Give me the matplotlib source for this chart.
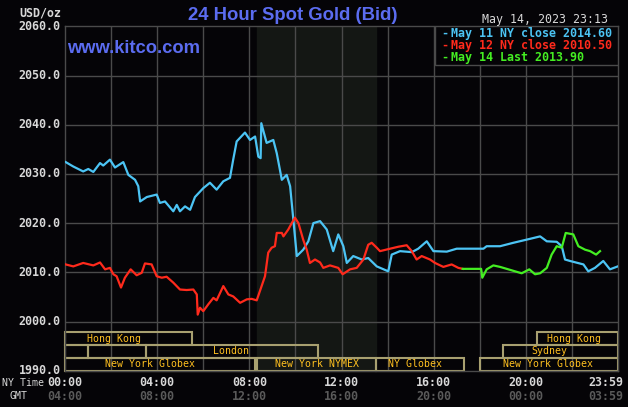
import matplotlib
matplotlib.use("Agg")
import matplotlib.pyplot as plt
from matplotlib.patches import Rectangle
import matplotlib.transforms as mtransforms

# ---------------- data ----------------
blue_h = [0.03, 0.36, 0.79, 1.01, 1.23, 1.52, 1.66, 1.95, 2.17, 2.53, 2.75, 3.04, 3.18, 3.26,
          3.55, 3.98, 4.12, 4.34, 4.70, 4.85, 4.99, 5.21, 5.43, 5.64, 6.00, 6.29, 6.58, 6.87,
          7.16, 7.30, 7.45, 7.81, 8.03, 8.25, 8.39, 8.49, 8.52, 8.75, 9.04, 9.19, 9.41, 9.62,
          9.77, 9.91, 10.06, 10.34, 10.56, 10.78, 11.07, 11.36, 11.64, 11.86, 12.08, 12.23,
          12.51, 12.88, 13.16, 13.53, 14.03, 14.18, 14.54, 15.05, 15.33, 15.70, 15.99, 16.57,
          17.00, 18.16, 18.30, 18.88, 19.46, 20.18, 20.62, 20.91, 21.34, 21.56, 21.70, 21.92,
          22.50, 22.71, 23.00, 23.36, 23.65, 23.99]
blue_p = [2032.4, 2031.5, 2030.5, 2031.0, 2030.4, 2032.2, 2031.7, 2032.9, 2031.3, 2032.4, 2029.8,
          2028.8, 2027.5, 2024.4, 2025.3, 2025.8, 2024.1, 2024.4, 2022.4, 2023.7, 2022.4, 2023.4,
          2022.7, 2025.3, 2027.1, 2028.2, 2026.8, 2028.5, 2029.2, 2032.9, 2036.6, 2038.4, 2036.9,
          2037.6, 2033.5, 2033.2, 2040.3, 2036.3, 2036.9, 2034.2, 2028.8, 2029.8, 2027.5, 2020.7,
          2013.3, 2014.6, 2016.3, 2020.0, 2020.4, 2018.7, 2014.3, 2017.7, 2015.3, 2011.9, 2013.3,
          2012.6, 2012.9, 2011.2, 2010.2, 2013.6, 2014.3, 2014.1, 2014.8, 2016.3, 2014.3, 2014.2,
          2014.8, 2014.8, 2015.3, 2015.3, 2016.0, 2016.8, 2017.3, 2016.3, 2016.2, 2015.3, 2012.6,
          2012.3, 2011.6, 2010.2, 2010.9, 2012.3, 2010.6, 2011.2]

red_h = [0.03, 0.36, 0.79, 1.23, 1.52, 1.74, 1.95, 2.10, 2.24, 2.43, 2.60, 2.85, 3.11, 3.33,
         3.47, 3.76, 3.98, 4.20, 4.41, 4.70, 4.99, 5.28, 5.57, 5.72, 5.76, 5.86, 6.00, 6.22,
         6.44, 6.58, 6.87, 7.09, 7.30, 7.60, 7.89, 8.10, 8.32, 8.46, 8.68, 8.82, 8.97, 9.11,
         9.19, 9.41, 9.48, 9.69, 9.84, 9.98, 10.13, 10.34, 10.49, 10.63, 10.85, 11.07, 11.21,
         11.50, 11.86, 12.05, 12.37, 12.66, 12.95, 13.16, 13.31, 13.53, 13.67, 14.11, 14.47,
         14.83, 15.05, 15.26, 15.48, 15.84, 16.06, 16.42, 16.78, 17.07, 17.26]
red_p = [2011.6, 2011.2, 2011.9, 2011.4, 2012.0, 2010.6, 2010.9, 2009.6, 2009.2, 2006.9, 2008.9,
         2010.6, 2009.4, 2009.9, 2011.8, 2011.6, 2009.2, 2008.9, 2009.1, 2007.9, 2006.5, 2006.4,
         2006.5, 2005.5, 2001.4, 2002.8, 2002.1, 2003.5, 2004.8, 2004.3, 2007.2, 2005.5, 2005.1,
         2003.8, 2004.5, 2004.6, 2004.3, 2006.2, 2009.2, 2014.0, 2015.0, 2015.3, 2018.0, 2018.0,
         2017.3, 2018.7, 2020.0, 2021.1, 2020.0, 2016.6, 2014.6, 2011.9, 2012.6, 2012.0, 2010.9,
         2011.4, 2010.9, 2009.6, 2010.6, 2010.9, 2012.6, 2015.6, 2016.0, 2015.0, 2014.3, 2014.8,
         2015.2, 2015.5, 2014.3, 2012.6, 2013.3, 2012.6, 2011.9, 2011.1, 2011.6, 2010.9, 2010.7]

green_h = [17.26, 18.06, 18.11, 18.30, 18.59, 18.88, 19.17, 19.53, 19.82, 20.15, 20.40, 20.62,
           20.91, 21.12, 21.34, 21.56, 21.73, 22.06, 22.28, 22.57, 22.79, 23.05, 23.22]
green_p = [2010.7, 2010.7, 2008.9, 2010.6, 2011.4, 2011.1, 2010.7, 2010.2, 2009.8, 2010.6, 2009.6,
           2009.8, 2010.9, 2013.6, 2015.3, 2015.0, 2018.0, 2017.7, 2015.3, 2014.6, 2014.3, 2013.6,
           2014.3]

legend_labels = ["May 11 NY close 2014.60", "May 12 NY close 2010.50", "May 14 Last 2013.90"]
ny_ticks = [0, 4, 8, 12, 16, 20]
ny_labels = ["00:00", "04:00", "08:00", "12:00", "16:00", "20:00"]
gmt_labels = ["04:00", "08:00", "12:00", "16:00", "20:00", "00:00"]
last_ny, last_gmt = "23:59", "03:59"
y_ticks = [1990, 2000, 2010, 2020, 2030, 2040, 2050, 2060]

# sessions: (row, start hour, end hour, label)
sessions = [
    (2, 0.0, 5.5, "Hong Kong"), (2, 20.5, 24.0, "Hong Kong"),
    (1, 0.0, 1.0, ""), (1, 1.0, 3.5, ""), (1, 3.5, 11.0, "London"), (1, 19.0, 24.0, "Sydney"),
    (0, 0.0, 8.25, "New York Globex"), (0, 8.33, 13.5, "New York NYMEX"),
    (0, 13.5, 17.33, "NY Globex"), (0, 18.0, 24.0, "New York Globex"),
]
label_centers = [2.13, 22.07, None, None, 7.2, 21.0, 3.67, 10.92, 15.2, 20.96]
nymex_shade = (8.33, 13.5)

# ---------------- style ----------------
BG = "#050407"
GRID = "#4a4a4a"
TXT = "#d8d8d8"
BLUE = "#4cc4f4"
RED = "#ff2a1c"
GREEN = "#44ee22"
TITLE = "#5b6cf0"
BOX = "#a8a070"
SESS = "#ffc020"
MONO = "DejaVu Sans Mono"

W, H = 628, 407
fig = plt.figure(figsize=(W / 100, H / 100), dpi=100, facecolor=BG)
L, R, T, B = 65, 618, 26.3, 370.7
ax = fig.add_axes([L / W, 1 - B / H, (R - L) / W, (B - T) / H], facecolor=BG)
ax.set_xlim(0, 24)
ax.set_ylim(1990, 2060)
for s in ax.spines.values():
    s.set_color(GRID)
    s.set_linewidth(1)
ax.set_xticks([])
ax.set_yticks([])

# shaded NYMEX region
ax.axvspan(nymex_shade[0], nymex_shade[1], color="#141714", zorder=0)

# grid
for yv in y_ticks[1:-1]:
    ax.axhline(yv, color=GRID, lw=1, zorder=1)
for xv in range(2, 24, 2):
    ax.axvline(xv, color=GRID, lw=1, zorder=1)

# sessions
row_h = 70 * (B - T) ** -1 * 12.8  # about 2.6 price units per row
for (row, s0, s1, lab), cx in zip(sessions, label_centers):
    y0 = 1990 + row * row_h
    ax.add_patch(Rectangle((s0, y0), s1 - s0, row_h, fill=False, edgecolor=BOX,
                           lw=1.5, zorder=2, clip_on=False))
    if lab:
        ax.text(cx, y0 + row_h / 2, lab, color=SESS, fontsize=7.1, family=MONO,
                ha="center", va="center", zorder=3)

# lines
ax.plot(blue_h, blue_p, color=BLUE, lw=1.6, zorder=4)
ax.plot(red_h, red_p, color=RED, lw=1.6, zorder=4)
ax.plot(green_h, green_p, color=GREEN, lw=1.6, zorder=5)

# legend box
lx0 = (434.7 - L) / (R - L)
ly0 = 1 - (65.3 - T) / (B - T)
ax.add_patch(Rectangle((lx0, ly0), 1 - lx0, 1 - ly0, transform=ax.transAxes,
                       facecolor=BG, edgecolor=GRID, lw=1, zorder=6))
for i, (lab, col) in enumerate(zip(legend_labels, [BLUE, RED, GREEN])):
    yy = 1 - (33 + 12.3 * i) / H
    fig.text(441 / W, yy, "-", color=col, fontsize=8.4, family=MONO,
             fontweight="bold", va="center", ha="left", zorder=7)
    fig.text(450.7 / W, yy, lab, color=col, fontsize=8.4, family=MONO,
             fontweight="bold", va="center", ha="left", zorder=7)

# y tick labels
ytr = mtransforms.blended_transform_factory(fig.transFigure, ax.transData)
for yv in y_ticks:
    ax.text(60.5 / W, yv, f"{yv:.1f}", transform=ytr,
            color=TXT, fontsize=8.4, family=MONO, fontweight="bold", ha="right", va="center")

# time labels
ty1 = 1 - 382.5 / H
ty2 = 1 - 396 / H
btr = mtransforms.blended_transform_factory(ax.transData, fig.transFigure)
for xv, a, b in zip(ny_ticks, ny_labels, gmt_labels):
    ax.text(xv, ty1, a, transform=btr, color=TXT, fontsize=8.4, family=MONO,
            fontweight="bold", ha="center", va="center")
    ax.text(xv, ty2, b, transform=btr, color="#5a5a5a", fontsize=8.4, family=MONO,
            fontweight="bold", ha="center", va="center")
fig.text(623.5 / W, ty1, last_ny, color=TXT, fontsize=8.4, family=MONO,
         fontweight="bold", ha="right", va="center")
fig.text(623.5 / W, ty2, last_gmt, color="#5a5a5a", fontsize=8.4, family=MONO,
         fontweight="bold", ha="right", va="center")
fig.text(2 / W, ty1, "NY Time", color=TXT, fontsize=7.1, family=MONO, ha="left", va="center")
fig.text(10 / W, ty2, "GMT", color=TXT, fontsize=7.1, family=MONO, ha="left", va="center")

# header texts
fig.text(19 / W, 1 - 12.5 / H, "USD/oz", color=TXT, fontsize=8.4, family=MONO,
         fontweight="bold", ha="left", va="center")
fig.text(481.7 / W, 1 - 19 / H, "May 14, 2023 23:13", color=TXT, fontsize=8.4, family=MONO,
         ha="left", va="center")
fig.text(293 / W, 1 - 15 / H, "24 Hour Spot Gold (Bid)", color=TITLE, fontsize=13.3,
         family="Liberation Sans", fontweight="bold", ha="center", va="center")
fig.text(67 / W, 1 - 48.5 / H, "www.kitco.com", color=TITLE, fontsize=13.2,
         family="Liberation Sans", fontweight="bold", ha="left", va="center")

fig.savefig("out.png", dpi=100, facecolor=BG)
